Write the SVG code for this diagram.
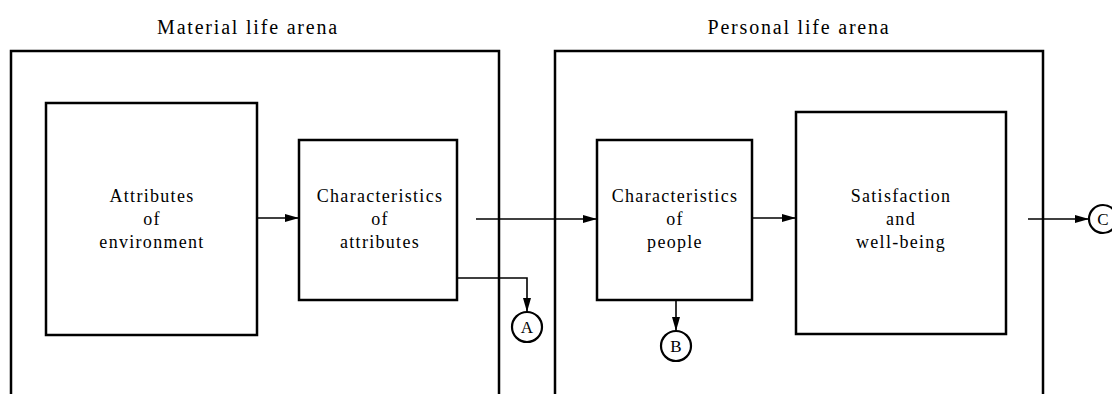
<svg xmlns="http://www.w3.org/2000/svg" width="1112" height="394" viewBox="0 0 1112 394">
<style>
  .arena{fill:none;stroke:#000;stroke-width:2.5}
  .box{fill:#fff;stroke:#000;stroke-width:2.5}
  .lbl{font-family:"Liberation Serif","Times New Roman",serif;font-size:18px;letter-spacing:1.3px;fill:#000;text-anchor:middle}
  .title{font-family:"Liberation Serif","Times New Roman",serif;font-size:20px;letter-spacing:1.8px;fill:#000;text-anchor:middle}
  .conn{fill:none;stroke:#000;stroke-width:1.6}
  .circ{fill:#fff;stroke:#000;stroke-width:2.2}
  .clbl{font-family:"Liberation Serif","Times New Roman",serif;font-size:17px;fill:#000;text-anchor:middle}
</style>
<defs>
  <marker id="arr" viewBox="0 0 14 8" refX="14" refY="4" markerWidth="14" markerHeight="8" markerUnits="userSpaceOnUse" orient="auto">
    <path d="M0,0 L14,4 L0,8 Z" fill="#000"/>
  </marker>
</defs>
<rect width="1112" height="394" fill="#fff"/>

<g id="material-arena">
  <rect class="arena" x="11" y="51" width="488" height="360"/>
  <text class="title" x="248" y="34">Material life arena</text>
</g>
<g id="personal-arena">
  <rect class="arena" x="555" y="51" width="488" height="360"/>
  <text class="title" x="799" y="34">Personal life arena</text>
</g>

<g id="attributes-of-environment">
  <rect class="box" x="46" y="103" width="211" height="232"/>
  <text class="lbl" x="152" y="202">Attributes</text>
  <text class="lbl" x="152" y="225">of</text>
  <text class="lbl" x="152" y="248">environment</text>
</g>
<g id="characteristics-of-attributes">
  <rect class="box" x="299" y="140" width="158" height="160"/>
  <text class="lbl" x="380" y="202">Characteristics</text>
  <text class="lbl" x="380" y="225">of</text>
  <text class="lbl" x="380" y="248">attributes</text>
</g>
<g id="characteristics-of-people">
  <rect class="box" x="597" y="140" width="155" height="160"/>
  <text class="lbl" x="675" y="202">Characteristics</text>
  <text class="lbl" x="675" y="225">of</text>
  <text class="lbl" x="675" y="248">people</text>
</g>
<g id="satisfaction">
  <rect class="box" x="796" y="112" width="210" height="222"/>
  <text class="lbl" x="901" y="202">Satisfaction</text>
  <text class="lbl" x="901" y="225">and</text>
  <text class="lbl" x="901" y="248">well-being</text>
</g>

<g id="connectors">
  <line class="conn" x1="257" y1="218" x2="299" y2="218" marker-end="url(#arr)"/>
  <line class="conn" x1="476" y1="219" x2="597" y2="219" marker-end="url(#arr)"/>
  <line class="conn" x1="752" y1="218" x2="796" y2="218" marker-end="url(#arr)"/>
  <polyline class="conn" points="457,278 527,278 527,312" marker-end="url(#arr)"/>
  <line class="conn" x1="676" y1="300" x2="676" y2="331" marker-end="url(#arr)"/>
  <line class="conn" x1="1028" y1="219" x2="1089" y2="219" marker-end="url(#arr)"/>
</g>

<g id="connector-A">
  <circle class="circ" cx="527" cy="327" r="15"/>
  <text class="clbl" x="527" y="333">A</text>
</g>
<g id="connector-B">
  <circle class="circ" cx="676" cy="346" r="15"/>
  <text class="clbl" x="676" y="352">B</text>
</g>
<g id="connector-C">
  <circle class="circ" cx="1103" cy="219" r="14"/>
  <text class="clbl" x="1103" y="225">C</text>
</g>
</svg>
